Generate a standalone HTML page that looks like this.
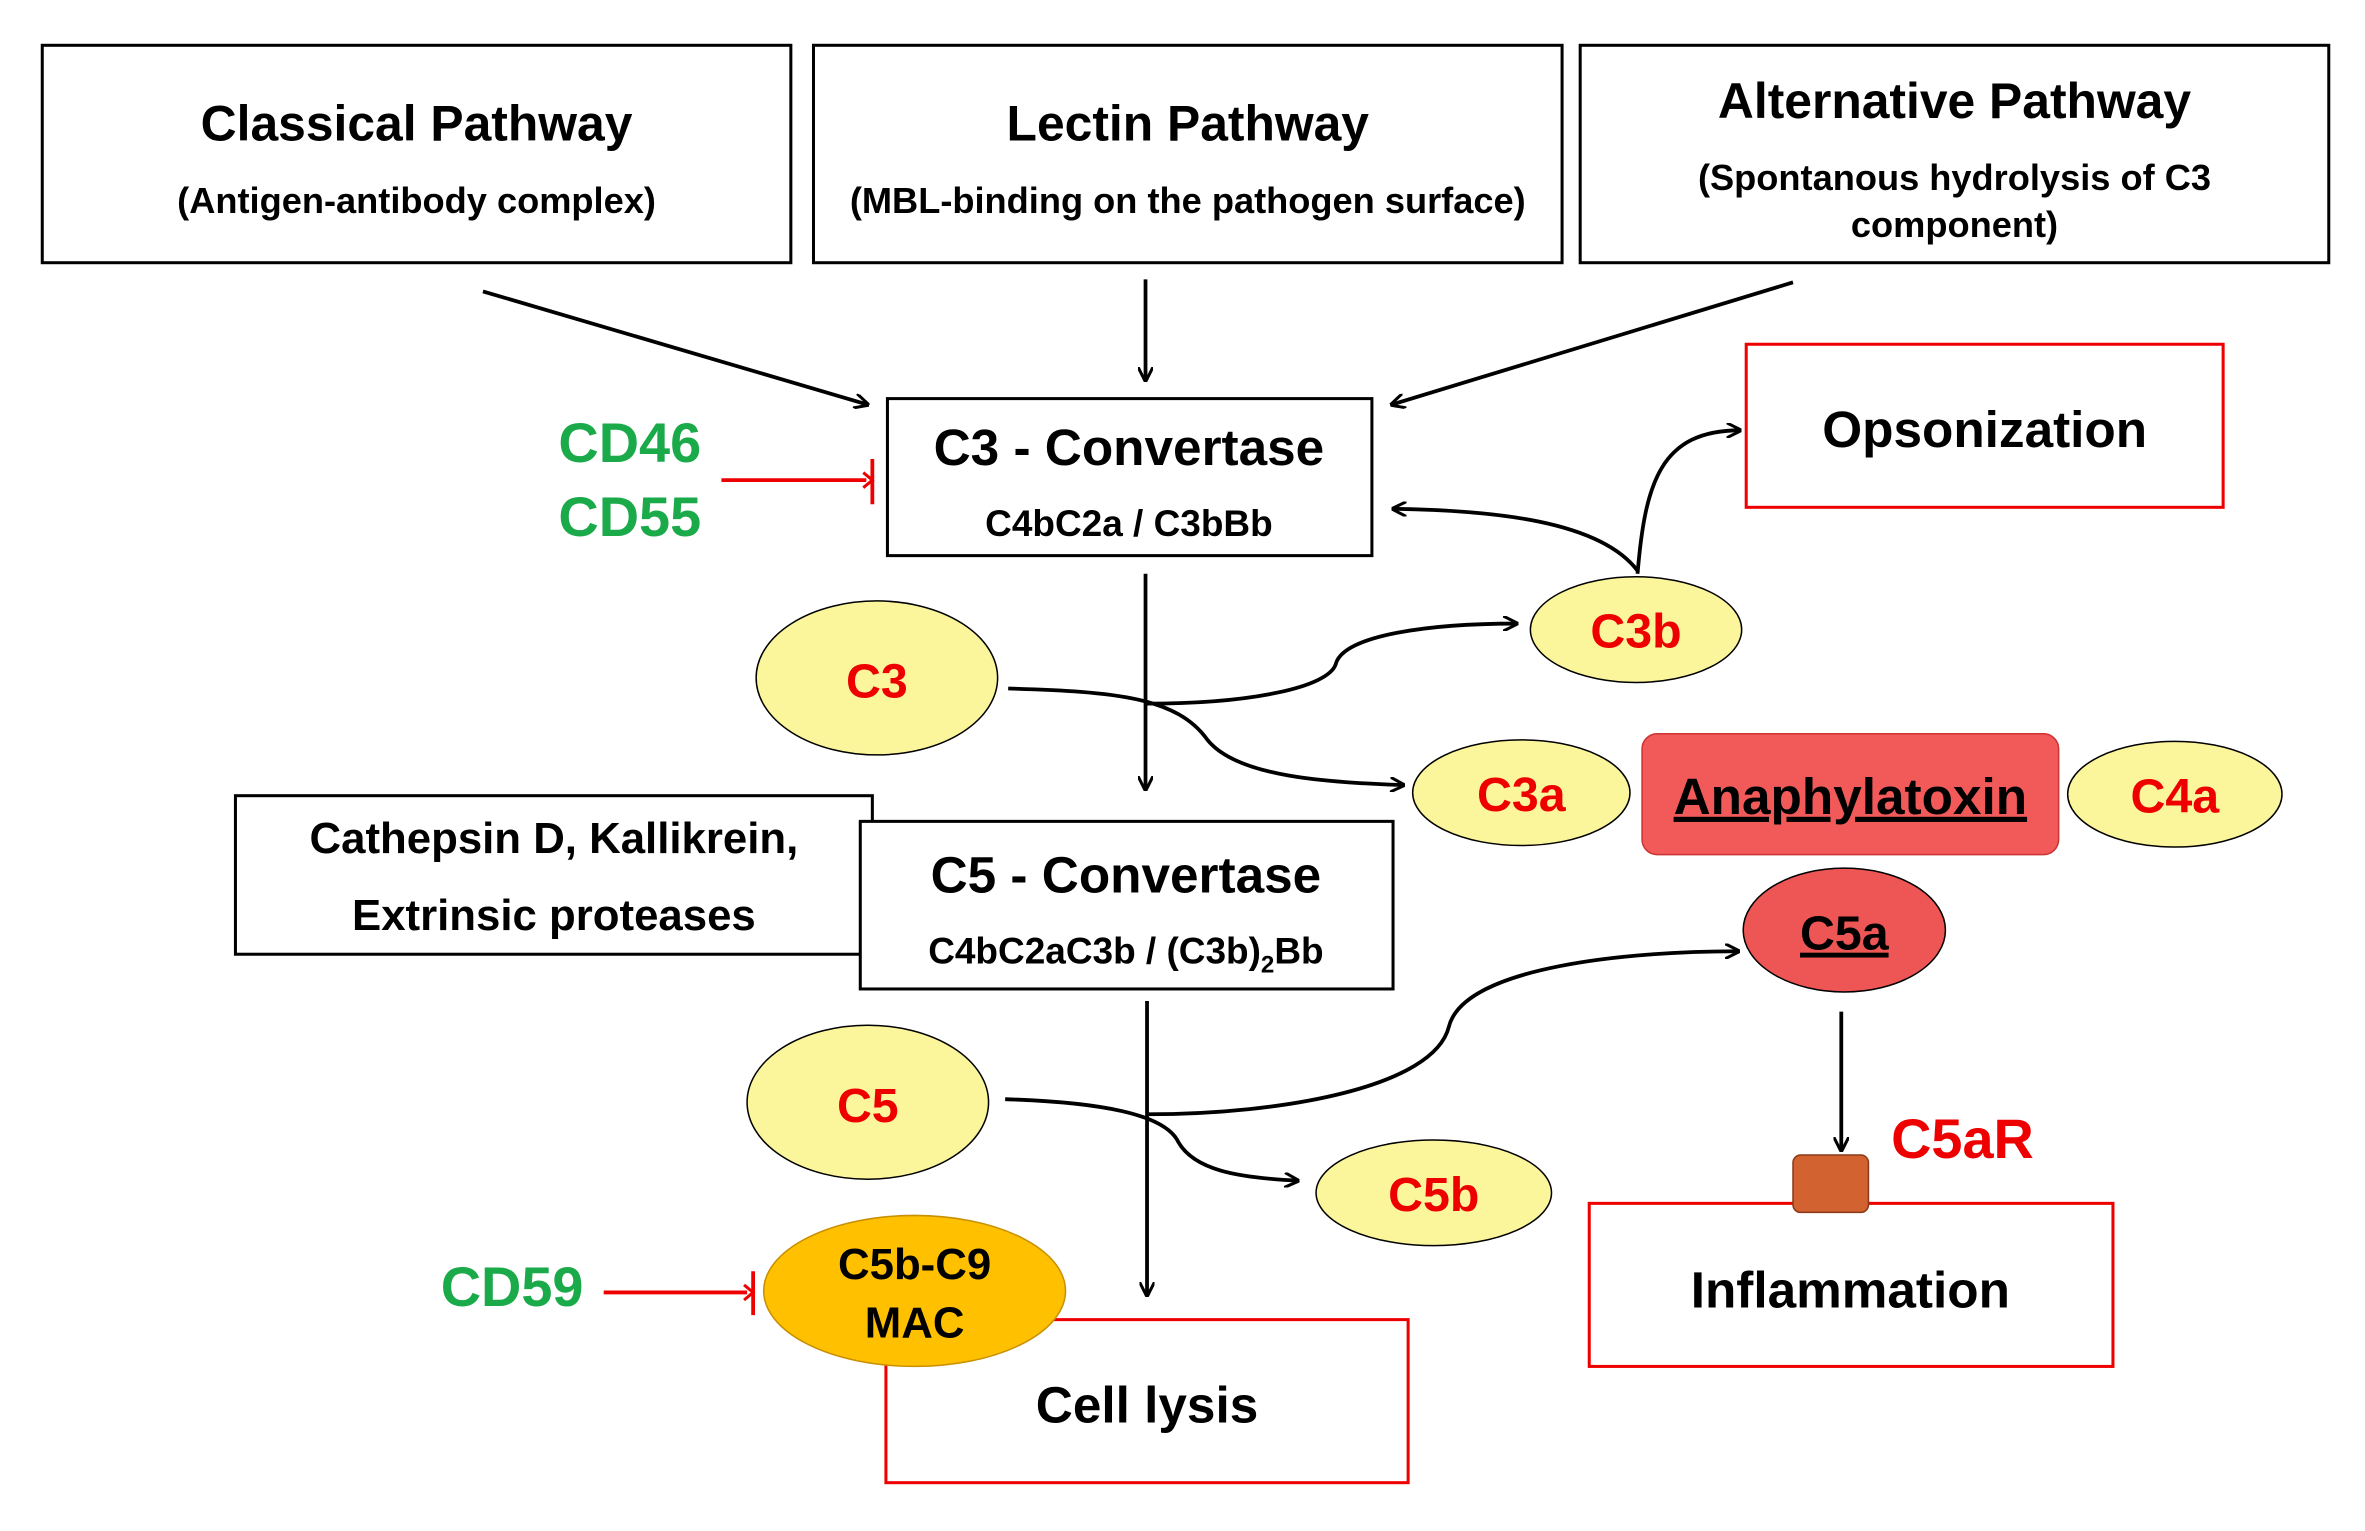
<!DOCTYPE html>
<html><head><meta charset="utf-8"><style>
html,body{margin:0;padding:0;background:#fff;}
svg{display:block;}
text{font-family:"Liberation Sans",Arial,sans-serif;font-weight:bold;}
</style></head><body>
<svg width="2365" height="1531" viewBox="0 0 1567 1014" preserveAspectRatio="none" xmlns="http://www.w3.org/2000/svg">
<defs>
<marker id="a" markerWidth="10" markerHeight="10" refX="9" refY="5" orient="auto" markerUnits="userSpaceOnUse"><path d="M0,0 L10,5 L0,10" fill="none" stroke="#000" stroke-width="2"/></marker>
</defs>
<g fill="#fff" stroke="#000" stroke-width="2">
<rect x="28" y="30" width="496" height="144"/>
<rect x="539" y="30" width="496" height="144"/>
<rect x="1047" y="30" width="496" height="144"/>
<rect x="588" y="264" width="321" height="104"/>
<rect x="156" y="527" width="422" height="105"/>
<rect x="570" y="544" width="353" height="111"/>
</g>
<g fill="#fff" stroke="#e00" stroke-width="2">
<rect x="1157" y="228" width="316" height="108"/>
<rect x="1053" y="797" width="347" height="108"/>
<rect x="587" y="874" width="346" height="108"/>
</g>
<g text-anchor="middle" fill="#000">
<text x="276" y="93" font-size="33">Classical Pathway</text>
<text x="276" y="141" font-size="24">(Antigen-antibody complex)</text>
<text x="787" y="93" font-size="33">Lectin Pathway</text>
<text x="787" y="141" font-size="24">(MBL-binding on the pathogen surface)</text>
<text x="1295" y="78" font-size="33">Alternative Pathway</text>
<text x="1295" y="126" font-size="24">(Spontanous hydrolysis of C3</text>
<text x="1295" y="157" font-size="24">component)</text>
<text x="748" y="308" font-size="34">C3 - Convertase</text>
<text x="748" y="355" font-size="24.5">C4bC2a / C3bBb</text>
<text x="367" y="565" font-size="29">Cathepsin D, Kallikrein,</text>
<text x="367" y="616" font-size="29">Extrinsic proteases</text>
<text x="746" y="591" font-size="34">C5 - Convertase</text>
<text x="746" y="638" font-size="24.5">C4bC2aC3b / (C3b)<tspan font-size="16" dy="6">2</tspan><tspan dy="-6">Bb</tspan></text>
<text x="1315" y="296" font-size="34">Opsonization</text>
<text x="1226" y="866" font-size="34">Inflammation</text>
<text x="760" y="942" font-size="34">Cell lysis</text>
</g>
<g fill="#1aaa4a" font-size="37">
<text x="370" y="306">CD46</text>
<text x="370" y="355">CD55</text>
<text x="292" y="865">CD59</text>
</g>
<g stroke="#000" stroke-width="2.5" fill="none" marker-end="url(#a)">
<line x1="320" y1="193" x2="575" y2="268"/>
<line x1="759" y1="185" x2="759" y2="252"/>
<line x1="1188" y1="187" x2="922" y2="268"/>
<path d="M1085 380 C1090 320 1100 285 1153 285"/>
<path d="M1085 378 C1060 345 990 338 923 337"/>
<line x1="759" y1="380" x2="759" y2="523"/>
<path d="M668 456 C740 458 780 462 800 490 C820 515 880 518 930 520"/>
<path d="M760 466 C830 466 880 455 885 440 C890 420 950 413 1005 413"/>
<line x1="1220" y1="670" x2="1220" y2="762"/>
<line x1="760" y1="663" x2="760" y2="858"/>
<path d="M666 728 C730 730 770 738 780 755 C790 775 820 780 860 782"/>
<path d="M760 738 C850 738 950 720 960 680 C970 640 1080 630 1152 630"/>
</g>
<g stroke="#e00" stroke-width="2.5">
<line x1="478" y1="318" x2="574" y2="318"/>
<line x1="578" y1="304" x2="578" y2="334"/>
<line x1="400" y1="856" x2="495" y2="856"/>
<line x1="499" y1="842" x2="499" y2="871"/>
</g>
<path d="M572 313 L578 318 L572 323" stroke="#e00" stroke-width="2" fill="none"/>
<path d="M493 851 L499 856 L493 861" stroke="#e00" stroke-width="2" fill="none"/>
<g fill="#fbf59c" stroke="#000" stroke-width="1">
<ellipse cx="1084" cy="417" rx="70" ry="35"/>
<ellipse cx="581" cy="449" rx="80" ry="51"/>
<ellipse cx="1008" cy="525" rx="72" ry="35"/>
<ellipse cx="1441" cy="526" rx="71" ry="35"/>
<ellipse cx="575" cy="730" rx="80" ry="51"/>
<ellipse cx="950" cy="790" rx="78" ry="35"/>
</g>
<rect x="1088" y="486" width="276" height="80" rx="10" fill="#f25a5a" stroke="#c33" stroke-width="1"/>
<ellipse cx="1222" cy="616" rx="67" ry="41" fill="#ee5555" stroke="#000" stroke-width="1"/>
<rect x="1188" y="765" width="50" height="38" rx="5" fill="#d2622f" stroke="#8a3a18" stroke-width="1"/>
<ellipse cx="606" cy="855" rx="100" ry="50" fill="#ffc000" stroke="#c89000" stroke-width="1"/>
<g text-anchor="middle" fill="#e00" font-size="32">
<text x="1084" y="429">C3b</text>
<text x="581" y="462">C3</text>
<text x="1008" y="537">C3a</text>
<text x="1441" y="538">C4a</text>
<text x="575" y="743">C5</text>
<text x="950" y="802">C5b</text>
</g>
<g text-anchor="middle" fill="#000" text-decoration="underline">
<text x="1226" y="539" font-size="34">Anaphylatoxin</text>
<text x="1222" y="629" font-size="32">C5a</text>
</g>
<text x="1253" y="767" font-size="37" fill="#e00">C5aR</text>
<g text-anchor="middle" fill="#000" font-size="29">
<text x="606" y="847">C5b-C9</text>
<text x="606" y="886">MAC</text>
</g>
</svg>
</body></html>
